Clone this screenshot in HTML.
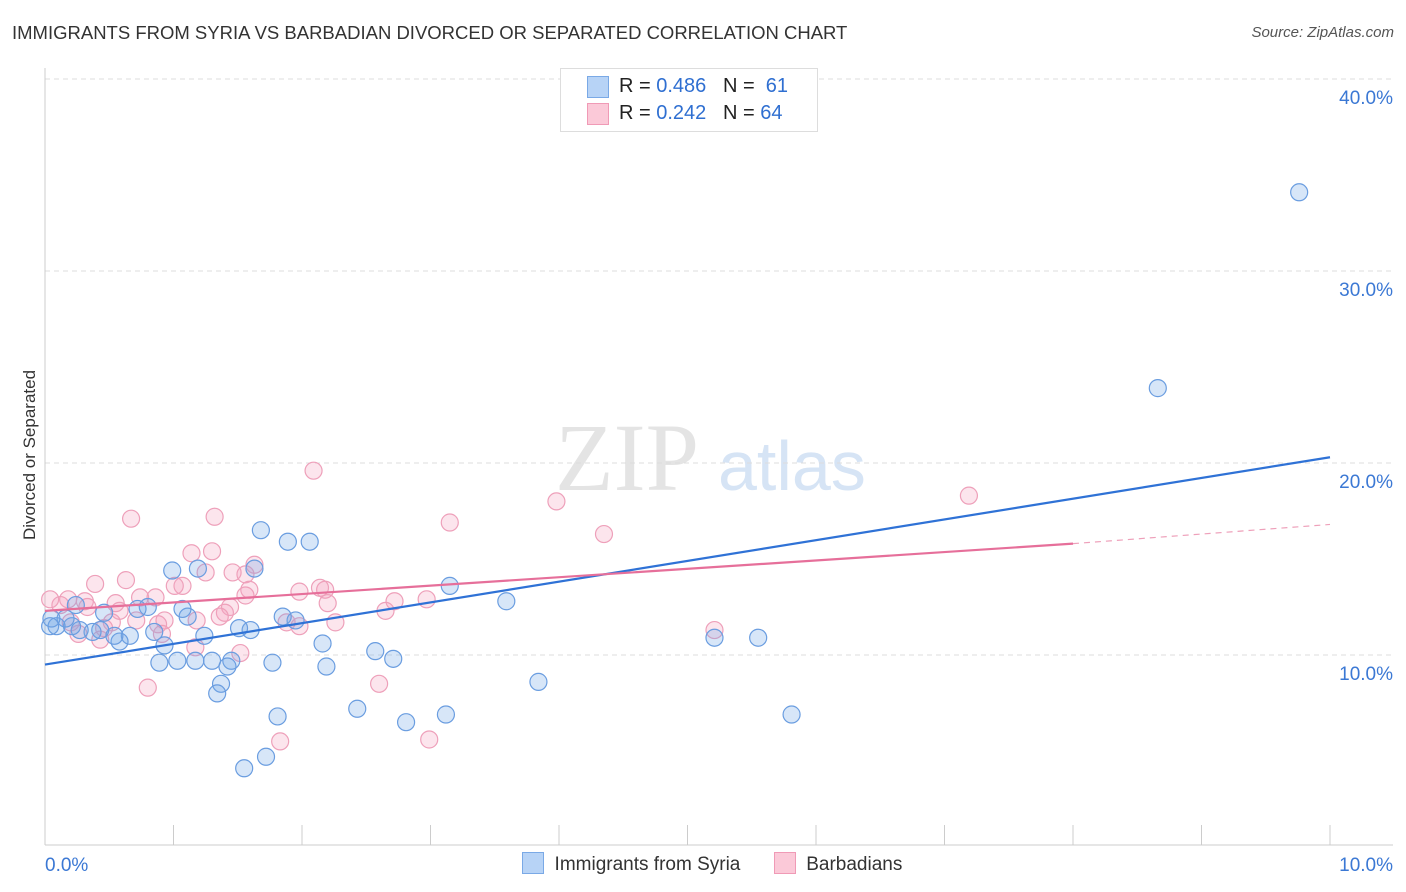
<!DOCTYPE html>
<html><head><meta charset="utf-8">
<style>
body{margin:0;background:#fff;font-family:"Liberation Sans",sans-serif;}
#wrap{position:relative;width:1406px;height:892px;overflow:hidden;}
.t{position:absolute;white-space:nowrap;}
</style></head>
<body>
<div id="wrap">
<div class="t" style="left:12px;top:22px;font-size:18.5px;color:#333;">IMMIGRANTS FROM SYRIA VS BARBADIAN DIVORCED OR SEPARATED CORRELATION CHART</div>
<div class="t" style="right:12px;top:24px;font-size:15px;color:#555;font-style:italic;">Source: ZipAtlas.com</div>
<div class="t" style="left:-60px;top:445px;font-size:17px;color:#333;transform:rotate(-90deg);width:180px;text-align:center;">Divorced or Separated</div>
<svg id="svg" width="1406" height="892" style="position:absolute;left:0;top:0"></svg>
<div class="t" style="left:560px;top:68px;width:256px;height:62px;border:1px solid #ddd;background:#fff;font-size:20px;color:#222;">
  <div style="position:absolute;left:26px;top:7px;width:20px;height:20px;background:#b7d3f6;border:1px solid #7aa9e6;"></div>
  <div class="t" style="left:58px;top:6px;">R = <span style="color:#2f6fd1">0.486</span>&nbsp;&nbsp;&nbsp;N = &nbsp;<span style="color:#2f6fd1">61</span></div>
  <div style="position:absolute;left:26px;top:34px;width:20px;height:20px;background:#fbc9d8;border:1px solid #f09ab6;"></div>
  <div class="t" style="left:58px;top:33px;">R = <span style="color:#2f6fd1">0.242</span>&nbsp;&nbsp;&nbsp;N = <span style="color:#2f6fd1">64</span></div>
</div>
<div class="t" style="left:522px;top:852px;font-size:19px;color:#333;">
  <span style="display:inline-block;width:20px;height:20px;background:#b7d3f6;border:1px solid #7aa9e6;vertical-align:-4px;"></span>&nbsp; Immigrants from Syria
  <span style="display:inline-block;width:20px;height:20px;background:#fbc9d8;border:1px solid #f09ab6;vertical-align:-4px;margin-left:28px;"></span>&nbsp; Barbadians
</div>
</div>
<script>
const blueX=[9.76,8.66,5.81,5.55,5.21,3.84,3.59,3.15,3.12,2.81,2.71,2.57,2.43,2.19,2.16,2.06,1.89,1.95,1.85,1.81,1.72,1.55,1.77,1.68,1.63,1.60,1.51,1.45,1.42,1.37,1.34,1.30,1.19,1.17,1.24,1.11,1.07,0.99,1.03,0.89,0.93,0.85,0.80,0.72,0.66,0.58,0.54,0.46,0.43,0.37,0.27,0.21,0.16,0.09,0.05,0.04,0.24];
const blueY=[34.1,23.9,6.9,10.9,10.9,8.6,12.8,13.6,6.9,6.5,9.8,10.2,7.2,9.4,10.6,15.9,15.9,11.8,12.0,6.8,4.7,4.1,9.6,16.5,14.5,11.3,11.4,9.7,9.4,8.5,8.0,9.7,14.5,9.7,11.0,12.0,12.4,14.4,9.7,9.6,10.5,11.2,12.5,12.4,11.0,10.7,11.0,12.2,11.3,11.2,11.3,11.5,11.9,11.5,11.9,11.5,12.6];
const pinkX=[2.09,3.15,3.98,4.35,7.19,5.21,2.99,2.60,1.83,0.80,0.67,1.32,1.30,1.14,1.63,1.46,1.25,1.56,1.07,1.01,0.63,0.39,1.98,2.14,2.18,1.59,1.56,2.97,2.72,2.20,1.88,1.98,2.26,2.65,1.44,1.40,1.36,1.18,0.93,0.88,0.71,0.55,0.74,0.86,0.52,0.46,0.43,0.26,0.20,0.31,0.18,0.12,0.04,1.17,1.52,0.91,0.33,0.58];
const pinkY=[19.6,16.9,18.0,16.3,18.3,11.3,5.6,8.5,5.5,8.3,17.1,17.2,15.4,15.3,14.7,14.3,14.3,14.2,13.6,13.6,13.9,13.7,13.3,13.5,13.4,13.4,13.1,12.9,12.8,12.7,11.7,11.5,11.7,12.3,12.5,12.2,12.0,11.8,11.8,11.6,11.8,12.7,13.0,13.0,11.7,11.4,10.8,11.1,11.7,12.8,12.9,12.6,12.9,10.4,10.1,11.1,12.5,12.3];
const blueTrend=[9.5,20.3];
const pinkTrend=[12.3,15.8,16.8];
const yTicks=[10,20,30,40];
const yTickLabels=["10.0%","20.0%","30.0%","40.0%"];
const xTicks=[0,1,2,3,4,5,6,7,8,9,10];

const X=v=>45+v*128.5, Y=v=>847-v*19.2;
const svg=document.getElementById('svg');
const NS='http://www.w3.org/2000/svg';
function mk(tag,attrs,name){const e=document.createElementNS(NS,tag);for(const k in attrs)e.setAttribute(k,attrs[k]);


svg.appendChild(e);return e;}
let w=mk('text',{x:555,y:490,'font-size':96,'font-family':'Liberation Serif','fill':'#e4e4e4'},'watermark-zip');w.textContent='ZIP';
w=mk('text',{x:718,y:490,'font-size':70,'font-family':'Liberation Sans','fill':'#d6e4f5'},'watermark-atlas');w.textContent='atlas';
yTicks.forEach((t,i)=>{
  mk('line',{x1:45,x2:1393,y1:Y(t),y2:Y(t),stroke:'#ddd','stroke-dasharray':'5,4'},'gridline');
  const tx=mk('text',{x:1393,y:Y(t)+25,'text-anchor':'end','font-size':19,fill:'#3b78d4','font-family':'Liberation Sans'},'y-tick-label');tx.textContent=yTickLabels[i];
});
mk('line',{x1:45,x2:45,y1:68,y2:845,stroke:'#ccc'},'y-axis-line');
mk('line',{x1:45,x2:1393,y1:845,y2:845,stroke:'#ccc'},'x-axis-line');
xTicks.forEach(t=>mk('line',{x1:X(t),x2:X(t),y1:825,y2:845,stroke:'#ccc'},'x-tick'));
let l=mk('text',{x:45,y:871,'font-size':19,fill:'#3b78d4','font-family':'Liberation Sans'},'x-tick-label-min');l.textContent='0.0%';
l=mk('text',{x:1393,y:871,'text-anchor':'end','font-size':19,fill:'#3b78d4','font-family':'Liberation Sans'},'x-tick-label-max');l.textContent='10.0%';
pinkX.forEach((x,i)=>mk('circle',{cx:X(x),cy:Y(pinkY[i]),r:8.5,fill:'rgba(245,160,190,0.28)',stroke:'#eea0ba','stroke-width':1.2},'barbadians-point'));
blueX.forEach((x,i)=>mk('circle',{cx:X(x),cy:Y(blueY[i]),r:8.5,fill:'rgba(110,165,230,0.28)',stroke:'#6a9de0','stroke-width':1.2},'syria-point'));
mk('line',{x1:X(0),y1:Y(blueTrend[0]),x2:X(10),y2:Y(blueTrend[1]),stroke:'#2f72d6','stroke-width':2.2},'syria-trend-line');
mk('line',{x1:X(0),y1:Y(pinkTrend[0]),x2:X(8),y2:Y(pinkTrend[1]),stroke:'#e66f9a','stroke-width':2.2},'barbadians-trend-line');
mk('line',{x1:X(8),y1:Y(pinkTrend[1]),x2:X(10),y2:Y(pinkTrend[2]),stroke:'#eea0ba','stroke-width':1.2,'stroke-dasharray':'6,5'},'barbadians-trend-extension');
</script>
</body></html>
